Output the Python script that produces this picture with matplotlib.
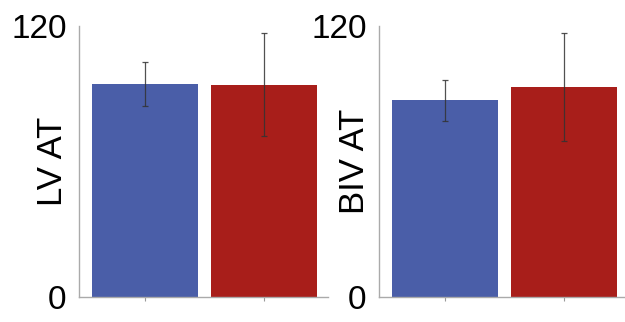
import matplotlib
matplotlib.use("Agg")
import matplotlib.pyplot as plt

plt.rcParams['font.family'] = ['Liberation Sans', 'DejaVu Sans']

groups = ["Group A", "Group B"]
lv_values = [94.3, 93.9]
lv_errors = [9.7, 22.8]
biv_values = [87.2, 92.9]
biv_errors = [9.1, 23.8]
panel_labels = ["LV AT", "BIV AT"]
bar_colors = ["#4a5ea8", "#a81e1a"]
ymax = 120

fig = plt.figure(figsize=(6.25, 3.22), dpi=100)
axes = [fig.add_axes([79/625, 1-297/322, 249/625, 271/322]),
        fig.add_axes([379/625, 1-297/322, 249/625, 271/322])]

label_x = [-0.039, -0.032]
for ax, vals, errs, lab, lx in zip(axes, [lv_values, biv_values], [lv_errors, biv_errors], panel_labels, label_x):
    x = list(range(len(groups)))
    ax.bar(x, vals, width=0.89, color=bar_colors, zorder=2)
    ax.errorbar(x, vals, yerr=errs, fmt='none', ecolor='#333333', elinewidth=0.9,
                capsize=2.5, capthick=0.9, alpha=0.85, zorder=3)
    ax.set_xlim(-0.555, 1.538)
    ax.set_ylim(0, ymax)
    ax.set_yticks([0, ymax])
    ax.set_yticklabels(["0", str(ymax)])
    ax.set_xticks(x)
    ax.set_xticklabels([])
    ax.tick_params(axis='y', length=0, pad=9, labelsize=24)
    ax.tick_params(axis='x', length=3, color='#999999', width=0.8, direction='out')
    for s in ['top', 'right']:
        ax.spines[s].set_visible(False)
    for s in ['left', 'bottom']:
        ax.spines[s].set_color('#aaaaaa')
        ax.spines[s].set_linewidth(1.0)
    ax.set_ylabel(lab, fontsize=25)
    ax.yaxis.set_label_coords(lx, 0.5)

fig.savefig("out.png", dpi=100)
